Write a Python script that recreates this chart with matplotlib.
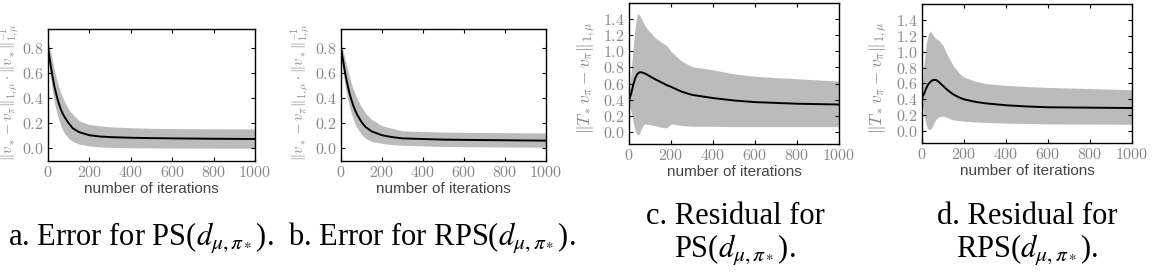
import matplotlib
matplotlib.use("Agg")
import matplotlib.pyplot as plt
from matplotlib.ticker import FuncFormatter

plt.rcParams['mathtext.fontset'] = 'cm'

# iteration grid
x_ab = [0, 10, 20, 30, 40, 50, 60, 70, 80, 100, 120, 150, 200, 250, 300, 400, 500, 600, 800, 1000]
x_cd = [0, 10, 20, 30, 40, 50, 60, 70, 80, 100, 120, 150, 180, 200, 250, 300, 400, 500, 600, 800, 1000]

# a. error for PS
mean_a = [0.80, 0.69, 0.59, 0.50, 0.43, 0.37, 0.32, 0.28, 0.25, 0.20, 0.16, 0.13, 0.105, 0.095, 0.09, 0.085, 0.082, 0.08, 0.077, 0.075]
upper_a = [0.85, 0.79, 0.71, 0.63, 0.56, 0.50, 0.45, 0.41, 0.37, 0.31, 0.27, 0.22, 0.19, 0.18, 0.172, 0.165, 0.16, 0.158, 0.156, 0.155]
lower_a = [0.72, 0.59, 0.47, 0.37, 0.30, 0.24, 0.19, 0.15, 0.12, 0.08, 0.055, 0.035, 0.02, 0.012, 0.008, 0.005, 0.004, 0.003, 0.002, 0.002]

# b. error for RPS
mean_b = [0.80, 0.70, 0.60, 0.52, 0.45, 0.39, 0.34, 0.30, 0.265, 0.21, 0.17, 0.135, 0.105, 0.09, 0.08, 0.075, 0.07, 0.068, 0.065, 0.062]
upper_b = [0.84, 0.78, 0.71, 0.64, 0.58, 0.52, 0.47, 0.43, 0.39, 0.33, 0.28, 0.23, 0.18, 0.16, 0.14, 0.135, 0.13, 0.128, 0.125, 0.123]
lower_b = [0.74, 0.61, 0.50, 0.41, 0.34, 0.28, 0.23, 0.19, 0.16, 0.11, 0.08, 0.055, 0.04, 0.03, 0.025, 0.02, 0.016, 0.014, 0.011, 0.01]

# c. residual for PS
mean_c = [0.40, 0.47, 0.58, 0.67, 0.72, 0.74, 0.74, 0.73, 0.72, 0.69, 0.66, 0.62, 0.58, 0.56, 0.50, 0.46, 0.42, 0.39, 0.37, 0.35, 0.34]
upper_c = [0.45, 0.75, 1.05, 1.32, 1.47, 1.45, 1.40, 1.35, 1.30, 1.24, 1.18, 1.12, 1.07, 1.00, 0.88, 0.81, 0.77, 0.72, 0.69, 0.66, 0.63]
lower_c = [0.35, 0.25, 0.12, 0.01, -0.04, -0.02, 0.05, 0.09, 0.10, 0.09, 0.08, 0.06, 0.05, 0.10, 0.08, 0.07, 0.07, 0.065, 0.065, 0.065, 0.065]

# d. residual for RPS
mean_d = [0.42, 0.47, 0.54, 0.59, 0.62, 0.64, 0.645, 0.64, 0.62, 0.57, 0.52, 0.46, 0.42, 0.40, 0.37, 0.35, 0.325, 0.31, 0.30, 0.295, 0.29]
upper_d = [0.50, 0.85, 1.10, 1.22, 1.26, 1.22, 1.18, 1.16, 1.14, 1.08, 0.96, 0.82, 0.72, 0.68, 0.63, 0.60, 0.575, 0.56, 0.55, 0.535, 0.52]
lower_d = [0.35, 0.20, 0.08, 0.02, 0.02, 0.06, 0.12, 0.16, 0.18, 0.19, 0.17, 0.14, 0.13, 0.125, 0.115, 0.11, 0.10, 0.095, 0.09, 0.088, 0.086]

err_label = r'$\|v_* - v_\pi\|_{1,\mu} \cdot \|v_*\|_{1,\mu}^{-1}$'
res_label = r'$\|T_* v_\pi - v_\pi\|_{1,\mu}$'
captions = [r'a. Error for PS($d_{\mu,\pi_*}$).', r'b. Error for RPS($d_{\mu,\pi_*}$).',
            'c. Residual for\n' + r'PS($d_{\mu,\pi_*}$).', 'd. Residual for\n' + r'RPS($d_{\mu,\pi_*}$).']

W, H = 1161, 273
fig = plt.figure(figsize=(W / 100, H / 100), dpi=100)


def box(l, r, t, b):
    return [l / W, (H - b) / H, (r - l) / W, (b - t) / H]


panels = [
    (box(48, 255, 29, 161), x_ab, mean_a, lower_a, upper_a, (-0.1, 0.95), [0.0, 0.2, 0.4, 0.6, 0.8], err_label, 10.5, (-0.13, 0.52)),
    (box(341, 546, 29, 161), x_ab, mean_b, lower_b, upper_b, (-0.1, 0.95), [0.0, 0.2, 0.4, 0.6, 0.8], err_label, 10.5, (-0.14, 0.52)),
    (box(629, 839, 3, 144), x_cd, mean_c, lower_c, upper_c, (-0.15, 1.6), [0.0, 0.2, 0.4, 0.6, 0.8, 1.0, 1.2, 1.4], res_label, 12.5, (-0.148, 0.47)),
    (box(922, 1132, 4, 143), x_cd, mean_d, lower_d, upper_d, (-0.15, 1.6), [0.0, 0.2, 0.4, 0.6, 0.8, 1.0, 1.2, 1.4], res_label, 12.5, (-0.152, 0.47)),
]

tick_col = '#888888'
for rect, xs, m, lo, hi, ylim, yt, ylab, ysize, lab_xy in panels:
    ax = fig.add_axes(rect)
    ax.fill_between(xs, lo, hi, color='#bbbbbb', linewidth=0)
    ax.plot(xs, m, color='black', linewidth=1.4)
    ax.set_xlim(0, 1000)
    ax.set_ylim(*ylim)
    ax.set_xticks([0, 200, 400, 600, 800, 1000])
    ax.set_yticks(yt)
    ax.xaxis.set_major_formatter(FuncFormatter(lambda v, p: r'$%d$' % v))
    ax.yaxis.set_major_formatter(FuncFormatter(lambda v, p: r'$%.1f$' % v))
    ax.tick_params(direction='in', top=True, right=True, length=3, width=0.8,
                   labelsize=11.5, labelcolor=tick_col, pad=3)
    for s in ax.spines.values():
        s.set_linewidth(1.0)
    ax.set_xlabel('number of iterations', family='Liberation Sans', fontsize=11, color='#444444', labelpad=1)
    ax.set_ylabel(ylab, fontsize=ysize, color=tick_col)
    ax.yaxis.set_label_coords(*lab_xy)

cap_x = [141, 432, 735, 1027]
cap_y = [238, 238, 235, 235]
for cx, cy, txt in zip(cap_x, cap_y, captions):
    fig.text(cx / W, 1 - cy / H, txt, ha='center', va='center', family='Liberation Serif',
             fontsize=22, math_fontfamily='stix', linespacing=1.12)

fig.savefig('out.png', dpi=100)
